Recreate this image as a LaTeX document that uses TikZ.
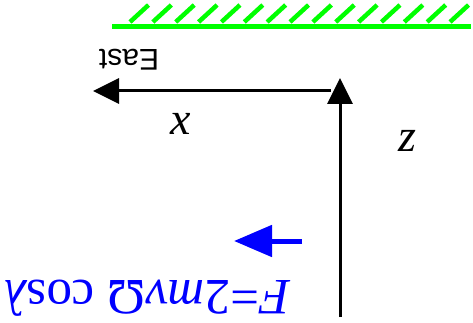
\documentclass[tikz,border=0pt]{standalone}
\usepackage{fontspec}
\setmainfont{Liberation Serif}
\newfontfamily\eastfont{Liberation Sans}
\usetikzlibrary{arrows.meta}
\begin{document}
\begin{tikzpicture}[x=1pt,y=-1pt,
  axis/.style={line width=3pt,-{Triangle[length=26pt,width=25pt]}},
  force/.style={blue,line width=5pt,-{Triangle[length=38pt,width=31pt]}},
  ground/.style={green,line width=5pt},
  lbl/.style={inner sep=0pt,anchor=base,font=\fontsize{46}{46}\selectfont\itshape}]
\useasboundingbox (0,0) rectangle (473,323);
% ground
\coordinate (gl) at (112,26.5);
\coordinate (gr) at (471,26.5);
\draw[ground] (gl) -- (gr);
\foreach \i in {0,...,14}
  \draw[ground,line width=4.5pt] ({130+22.86*\i},22) -- ({148.5+22.86*\i},5);
% axes
\coordinate (o) at (340,317);
\coordinate (ztip) at (340,78);
\coordinate (xs) at (331,91);
\coordinate (xtip) at (93,91);
\draw[axis] (o) -- (ztip);
\draw[axis] (xs) -- (xtip);
\node[inner sep=0pt,anchor=base,rotate=180,font=\eastfont\fontsize{30}{30}\selectfont] (east) at (129,50) {East};
\node[lbl] (xl) at (181,135) {x};
\node[lbl] (zl) at (407,152) {z};
% force
\coordinate (fs) at (302,241);
\coordinate (ftip) at (234,241);
\draw[force] (fs) -- (ftip);
\node[inner sep=0pt,anchor=base,rotate=180,text=blue,font=\fontsize{51}{51}\selectfont] (f) at (147.5,280) {{\itshape F}=2{\itshape mv}Ω cos{\itshape λ}};
\end{tikzpicture}
\end{document}
